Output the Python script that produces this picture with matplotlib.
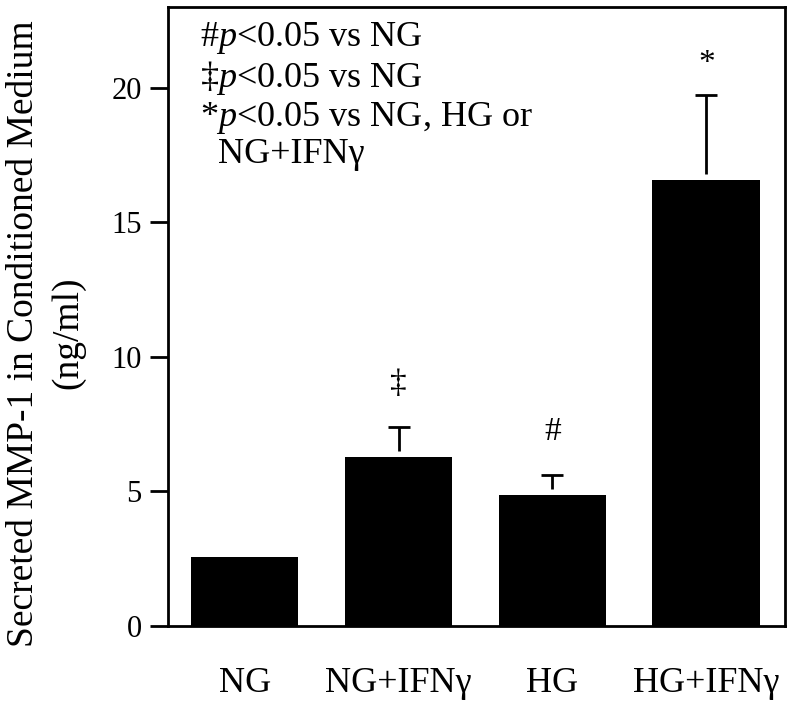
import matplotlib
matplotlib.use("Agg")
import matplotlib.pyplot as plt
import numpy as np

groups = ["NG", "NG+IFNγ", "HG", "HG+IFNγ"]
mmp1 = [2.57, 6.26, 4.87, 16.58]
err_top = [0.0, 7.39, 5.60, 19.75]
marks = ["", "‡", "#", "*"]

notes = ("#$p$<0.05 vs NG\n"
         "‡$p$<0.05 vs NG\n"
         "*$p$<0.05 vs NG, HG or\n"
         "  NG+IFNγ")

plt.rcParams['font.family'] = ['Liberation Serif', 'DejaVu Serif']
plt.rcParams['mathtext.fontset'] = 'custom'
plt.rcParams['mathtext.rm'] = 'Liberation Serif'
plt.rcParams['mathtext.it'] = 'Liberation Serif:italic'

fig = plt.figure(figsize=(8, 7.05), dpi=100)
ax = fig.add_axes([0.2096, 0.1125, 0.7714, 0.8771])

x = np.arange(len(groups))
vals = np.array(mmp1)
tops = np.array(err_top)
ax.bar(x, vals, width=0.7, color='black')

# error bars only go up, with a small white gap above the bar
gap = 0.23
has_err = tops > vals
ax.vlines(x[has_err], vals[has_err] + gap, tops[has_err], color='black', lw=2)
ax.plot(x[has_err], tops[has_err], ls='none', marker='_', ms=16, mew=2, color='black')

mark_offset = {"‡": 25, "#": 25, "*": 16}
for xi, top, m in zip(x, tops, marks):
    if m:
        ax.annotate(m, (xi, top), xytext=(0, mark_offset[m]), textcoords='offset points',
                    ha='center', va='baseline', fontsize=24)

ax.text(0.052, 0.979, notes, transform=ax.transAxes, ha='left', va='top',
        fontsize=26, linespacing=1.1)

ax.set_xlim(-0.5, 3.51)
ax.set_ylim(0, 23)
ax.set_yticks([0, 5, 10, 15, 20])
ax.set_xticks(x)
ax.set_xticklabels(groups)
ax.tick_params(axis='y', direction='out', length=12.7, width=2, pad=6, labelsize=22)
ax.tick_params(axis='x', length=0, pad=30, labelsize=26)

for s in ax.spines.values():
    s.set_linewidth(2)

ax.set_ylabel("Secreted MMP-1 in Conditioned Medium\n(ng/ml)", fontsize=27, linespacing=1.35)
ax.yaxis.set_label_coords(-0.134, 0.473)

fig.savefig("out.png", dpi=100)
